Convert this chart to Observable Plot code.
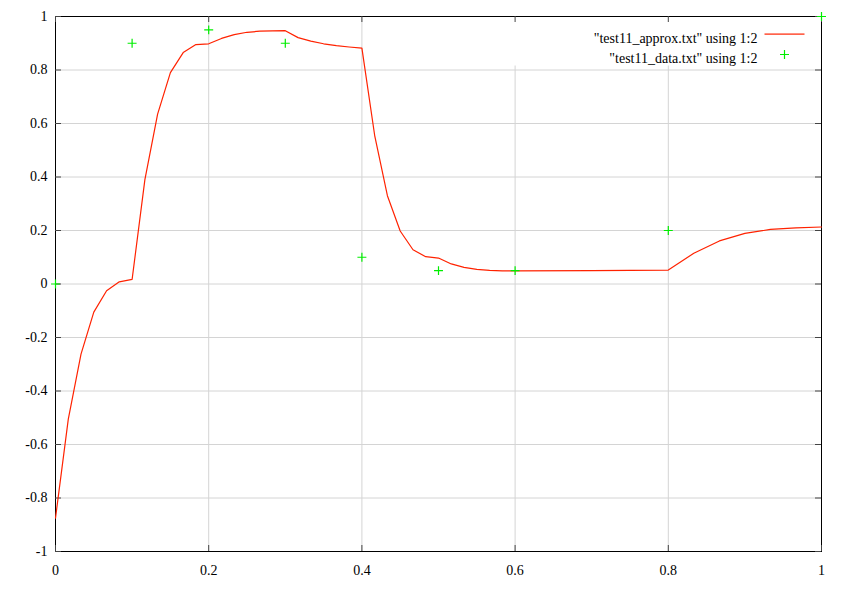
<!DOCTYPE html>
<html>
<head>
<meta charset="utf-8">
<script src="https://cdn.jsdelivr.net/npm/d3@7"></script>
<script src="https://cdn.jsdelivr.net/npm/@observablehq/plot@0.6"></script>
<style>
  html, body { margin: 0; padding: 0; background: white; }
  #chart svg, #chart svg text { font-family: "Liberation Serif", "Times New Roman", serif !important; }
</style>
</head>
<body>
<div id="chart"></div>
<script>
// approximation curve (test11_approx.txt)
const approxX = [0, 0.0167, 0.0333, 0.05, 0.0667, 0.0833, 0.1, 0.1167, 0.1333, 0.15, 0.1667, 0.1833, 0.2,
  0.2167, 0.2333, 0.25, 0.2667, 0.2833, 0.3, 0.3167, 0.3333, 0.35, 0.3667, 0.3833, 0.4, 0.4167, 0.4333,
  0.45, 0.4667, 0.4833, 0.5, 0.5167, 0.5333, 0.55, 0.5667, 0.5833, 0.6, 0.7, 0.8, 0.8333, 0.8667, 0.9,
  0.9333, 0.9667, 1];
const approxY = [-0.875, -0.505, -0.262, -0.105, -0.025, 0.008, 0.017, 0.39, 0.635, 0.79, 0.865, 0.895, 0.898,
  0.918, 0.932, 0.941, 0.945, 0.946, 0.947, 0.921, 0.908, 0.898, 0.891, 0.886, 0.882, 0.555, 0.33,
  0.198, 0.128, 0.102, 0.097, 0.075, 0.062, 0.055, 0.051, 0.049, 0.049, 0.05, 0.052, 0.115, 0.161, 0.189,
  0.204, 0.21, 0.213];

// data points (test11_data.txt)
const dataX = [0, 0.1, 0.2, 0.3, 0.4, 0.5, 0.6, 0.8, 1];
const dataY = [0, 0.9, 0.95, 0.9, 0.1, 0.05, 0.05, 0.2, 1];

// ticks
const xTicks = [0, 0.2, 0.4, 0.6, 0.8, 1];
const xTickLabels = ["0", "0.2", "0.4", "0.6", "0.8", "1"];
const yTicks = [-1, -0.8, -0.6, -0.4, -0.2, 0, 0.2, 0.4, 0.6, 0.8, 1];
const yTickLabels = ["-1", "-0.8", "-0.6", "-0.4", "-0.2", "0", "0.2", "0.4", "0.6", "0.8", "1"];

// legend labels
const legendLabels = ["\"test11_approx.txt\" using 1:2", "\"test11_data.txt\" using 1:2"];

const approx = approxX.map((x, i) => ({x, y: approxY[i]}));
const points = dataX.map((x, i) => ({x, y: dataY[i]}));

const lineColor = "#ff2200";
const pointColor = "#00ee00";
const gridColor = "#d4d4d4";
const tickColor = "#444";

const W = 846, H = 594;
const mL = 55, mR = 25, mT = 16, mB = 43;
const fw = W - mL - mR, fh = H - mT - mB;
const tickLen = 6;

const chart = Plot.plot({
  width: W,
  height: H,
  marginLeft: mL,
  marginRight: mR,
  marginTop: mT,
  marginBottom: mB,
  style: "font-family: 'Liberation Serif', 'Times New Roman', serif; font-size: 14px; background: white; color: black;",
  x: {domain: [0, 1], label: null},
  y: {domain: [-1, 1], label: null},
  marks: [
    // grid
    Plot.ruleX(xTicks, {x: d => d, stroke: gridColor, strokeWidth: 1}),
    Plot.ruleY(yTicks, {y: d => d, stroke: gridColor, strokeWidth: 1}),
    // key box blanks the grid
    Plot.frame({fill: "white", stroke: "none", insetLeft: 420, insetBottom: fh - 49}),
    // frame
    Plot.frame({stroke: "black", strokeWidth: 1}),
    // inward ticks on all four sides
    Plot.tickY(yTicks, {y: d => d, insetRight: fw - tickLen, stroke: tickColor}),
    Plot.tickY(yTicks, {y: d => d, insetLeft: fw - tickLen, stroke: tickColor}),
    Plot.tickX(xTicks, {x: d => d, insetTop: fh - tickLen, stroke: tickColor}),
    Plot.tickX(xTicks, {x: d => d, insetBottom: fh - tickLen, stroke: tickColor}),
    // axes labels
    Plot.axisX({ticks: xTicks, tickSize: 0, tickPadding: 14, label: null, tickFormat: d => xTickLabels[xTicks.indexOf(d)]}),
    Plot.axisY({ticks: yTicks, tickSize: 0, tickPadding: 8, label: null, tickFormat: d => yTickLabels[yTicks.indexOf(d)]}),
    // series
    Plot.line(approx, {x: "x", y: "y", stroke: lineColor, strokeWidth: 1.2}),
    Plot.dot(points, {x: "x", y: "y", symbol: "plus", r: 3, stroke: pointColor, strokeWidth: 1.2}),
    // legend
    Plot.text([legendLabels[0]], {text: d => d, frameAnchor: "top-right", dx: -64, dy: 16.5, textAnchor: "end", fill: "black"}),
    Plot.text([legendLabels[1]], {text: d => d, frameAnchor: "top-right", dx: -64, dy: 36.5, textAnchor: "end", fill: "black"}),
    Plot.frame({fill: lineColor, stroke: "none", insetLeft: 709, insetRight: 17, insetTop: 17, insetBottom: fh - 18.2}),
    Plot.dot([legendLabels[1]], {frameAnchor: "top-right", dx: -37, dy: 38, symbol: "plus", r: 3, stroke: pointColor, strokeWidth: 1.2})
  ]
});

document.getElementById("chart").appendChild(chart);
</script>
</body>
</html>
